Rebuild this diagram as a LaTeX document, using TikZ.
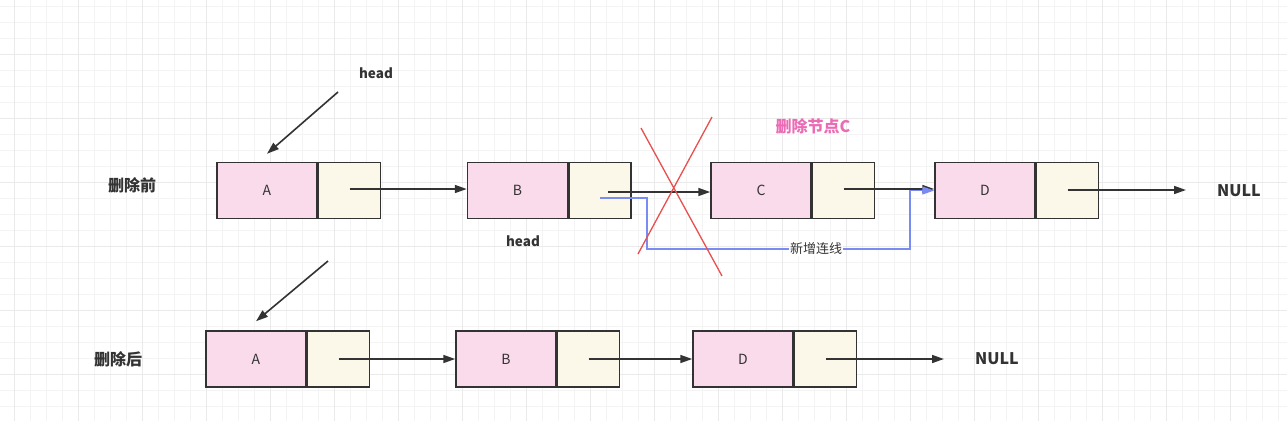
\documentclass[tikz,border=0pt]{standalone}
\usepackage{fontspec}
\setmainfont{Noto Sans CJK SC}
\usetikzlibrary{arrows.meta,positioning}
\definecolor{ink}{HTML}{333333}
\definecolor{datafill}{HTML}{FADBEB}
\definecolor{ptrfill}{HTML}{FBF8EA}
\definecolor{newlink}{HTML}{7A8BF2}
\definecolor{crossred}{HTML}{E8504F}
\definecolor{tagpink}{HTML}{EC6BB5}
\definecolor{gridminor}{HTML}{F4F4F4}
\definecolor{gridmajor}{HTML}{EAEAEA}
\tikzset{
    %Define standard arrow tip
    >={Triangle[length=12pt,width=8pt]},
    %Define style for the data part of a list node
    datbox/.style={
           rectangle,
           draw=ink,
           line width=1.5pt,
           fill=datafill,
           minimum width=100pt,
           minimum height=56pt,
           inner sep=0pt,
           text=ink,
           font=\fontsize{14}{14}\selectfont},
    %Define style for the pointer part
    ptrbox/.style={
           datbox,
           fill=ptrfill,
           minimum width=62pt},
    % Define arrow style
    pil/.style={
           ->,
           draw=ink,
           line width=1.6pt},
    % Define style for the bold labels
    lbl/.style={
           text=ink,
           font=\bfseries\fontsize{16}{16}\selectfont}
}

\begin{document}
\begin{tikzpicture}[x=1pt, y=-1pt]
  % background and grid
  \fill[white] (0,0) rectangle (1287,421);
  \useasboundingbox (0,0) rectangle (1287,421);
  \foreach \x in {14,30,...,1290} \draw[gridminor, line width=1pt] (\x,0) -- (\x,421);
  \foreach \y in {6,22,...,421} \draw[gridminor, line width=1pt] (0,\y) -- (1287,\y);
  \foreach \x in {14,78,...,1290} \draw[gridmajor, line width=1pt] (\x,0) -- (\x,421);
  \foreach \y in {54,118,...,421} \draw[gridmajor, line width=1pt] (0,\y) -- (1287,\y);

  % before deleting
  \node[lbl] (before) at (132,185) {删除前};
  \node[datbox] (a1) at (267,190.5) {A};
  \node[ptrbox,right=0pt of a1] (a1p) {};
  \node[datbox] (b1) at (517.5,190.5) {B};
  \node[ptrbox,right=0pt of b1] (b1p) {};
  \node[datbox] (c1) at (761,190.5) {C};
  \node[ptrbox,right=0pt of c1] (c1p) {};
  \node[datbox] (d1) at (985,190.5) {D};
  \node[ptrbox,right=0pt of d1] (d1p) {};
  \node[lbl] (null1) at (1239,191) {NULL};
  \node[lbl, font=\bfseries\fontsize{13.5}{13.5}\selectfont] (head1) at (376,73) {head};
  \node[lbl, font=\bfseries\fontsize{13.5}{13.5}\selectfont] (head2) at (523,241) {head};
  \node[lbl, text=tagpink] (deltag) at (813,126) {删除节点C};
  \coordinate (h1s) at (338,92);
  \coordinate (n1) at (1186,190);
  \coordinate (bend1) at (647,249);
  \coordinate (bend2) at (910,249);

  \draw[pil] (h1s) -- ([yshift=8pt]a1.north);
  \draw[pil] ([yshift=1.5pt]a1p.center) -- ([yshift=1.5pt]b1.west);
  \draw[pil] ([xshift=8pt,yshift=-1.5pt]b1p.center) -- ([yshift=-1.5pt]c1.west);
  \draw[pil] ([yshift=1.5pt]c1p.center) -- ([yshift=1.5pt]d1.west);
  \draw[pil] ([yshift=0.5pt]d1p.center) -- (n1);
  \draw[newlink, line width=1.3pt, ->] ([yshift=-7.5pt]b1p.center) -| (bend1)
    -- node[pos=0.643, fill=white, inner sep=1pt, text=ink, font=\fontsize{13}{13}\selectfont] {新增连线} (bend2)
    |- (d1.west);
  \draw[crossred, line width=1.3pt] (641,128) -- (722,276) (712,117) -- (638,254);

  % after deleting
  \node[lbl] (after) at (118,359) {删除后};
  \node[datbox] (a2) at (256,359) {A};
  \node[ptrbox,right=0pt of a2] (a2p) {};
  \node[datbox] (b2) at (506,359) {B};
  \node[ptrbox,right=0pt of b2] (b2p) {};
  \node[datbox] (d2) at (743,359) {D};
  \node[ptrbox,right=0pt of d2] (d2p) {};
  \node[lbl] (null2) at (997,359) {NULL};
  \coordinate (h2s) at (328,261);
  \coordinate (n2) at (944,359);

  \draw[pil] (h2s) -- ([yshift=9pt]a2.north);
  \draw[pil] (a2p.center) -- (b2.west);
  \draw[pil] (b2p.center) -- (d2.west);
  \draw[pil] (d2p.center) -- (n2);
\end{tikzpicture}
\end{document}
